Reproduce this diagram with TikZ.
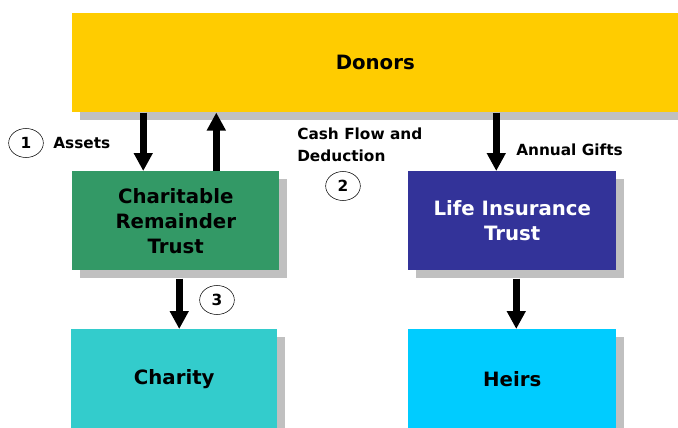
\documentclass[tikz,border=0pt]{standalone}
\usepackage{fontspec}
\setmainfont{DejaVu Sans}
\usepackage{xcolor}
\usetikzlibrary{arrows.meta,shapes.geometric}

\definecolor{donorYellow}{HTML}{FFCC00}
\definecolor{trustGreen}{HTML}{339966}
\definecolor{trustBlue}{HTML}{333399}
\definecolor{charityTeal}{HTML}{33CCCC}
\definecolor{heirsCyan}{HTML}{00CCFF}
\definecolor{shadowGrey}{HTML}{C0C0C0}

\begin{document}
\begin{tikzpicture}[x=0.75pt,y=0.75pt,yscale=-1,xscale=1,
  box/.style={anchor=north west, inner sep=0pt, minimum height=74.25pt, align=center,
    font=\fontsize{14.8}{18.75}\selectfont\bfseries,
    preaction={fill=shadowGrey, transform canvas={xshift=6pt,yshift=-6pt}}},
  lbl/.style={inner sep=0pt, align=left, font=\fontsize{11.5}{16.5}\selectfont\bfseries},
  numcircle/.style={ellipse, draw, thin, fill=white, inner sep=0pt, minimum width=26pt,
    minimum height=21.75pt, font=\fontsize{11.5}{13}\selectfont\bfseries},
  bigarrow/.style={line width=5pt, -{Triangle[width=13.5pt,length=13.5pt]}}]
\useasboundingbox (0,0) rectangle (678,428);
\clip (0,0) rectangle (678,428);

%Shape: Rectangle [Donors]
\node [box, fill=donorYellow, minimum width=454.5pt] (donors) at (72,13) {Donors};
%Shape: Rectangle [Charitable Remainder Trust]
\node [box, fill=trustGreen, minimum width=155.25pt] (crt) at (72,171) {Charitable\\Remainder\\Trust};
%Shape: Rectangle [Life Insurance Trust]
\node [box, fill=trustBlue, text=white, minimum width=156pt] (lit) at (408,171) {Life Insurance\\Trust};
%Shape: Rectangle [Charity]
\node [box, fill=charityTeal, minimum width=154.5pt] (charity) at (71,329) {Charity};
%Shape: Rectangle [Heirs]
\node [box, fill=heirsCyan, minimum width=156pt] (heirs) at (408,329) {Heirs};

%Straight Lines [Assets]
\draw [bigarrow] ([xshift=-24.4pt]crt.north |- donors.south) -- ([xshift=-24.4pt]crt.north);
%Straight Lines [Cash Flow]
\draw [bigarrow] ([xshift=30.4pt]crt.north) -- ([xshift=30.4pt]crt.north |- donors.south);
%Straight Lines [Annual Gifts]
\draw [bigarrow] ([xshift=-12pt]lit.north |- donors.south) -- ([xshift=-12pt]lit.north);
%Straight Lines [to Charity]
\draw [bigarrow, shorten <=6pt] ([xshift=2.6pt]crt.south) -- ([xshift=2.6pt]crt.south |- charity.north);
%Straight Lines [to Heirs]
\draw [bigarrow, shorten <=6pt] ([xshift=3pt]lit.south) -- ([xshift=3pt]lit.south |- heirs.north);

% Text Node
\node [numcircle] (n1) at (26,143) {1};
\node [lbl, anchor=west] (assets) at (53,143) {Assets};
% Text Node
\node [lbl, anchor=west] (cashflow) at (297,145) {Cash Flow and\\Deduction};
\node [numcircle] (n2) at (343,186) {2};
% Text Node
\node [lbl, anchor=west] (gifts) at (516,150) {Annual Gifts};
% Text Node
\node [numcircle] (n3) at (217,300) {3};

\end{tikzpicture}
\end{document}
